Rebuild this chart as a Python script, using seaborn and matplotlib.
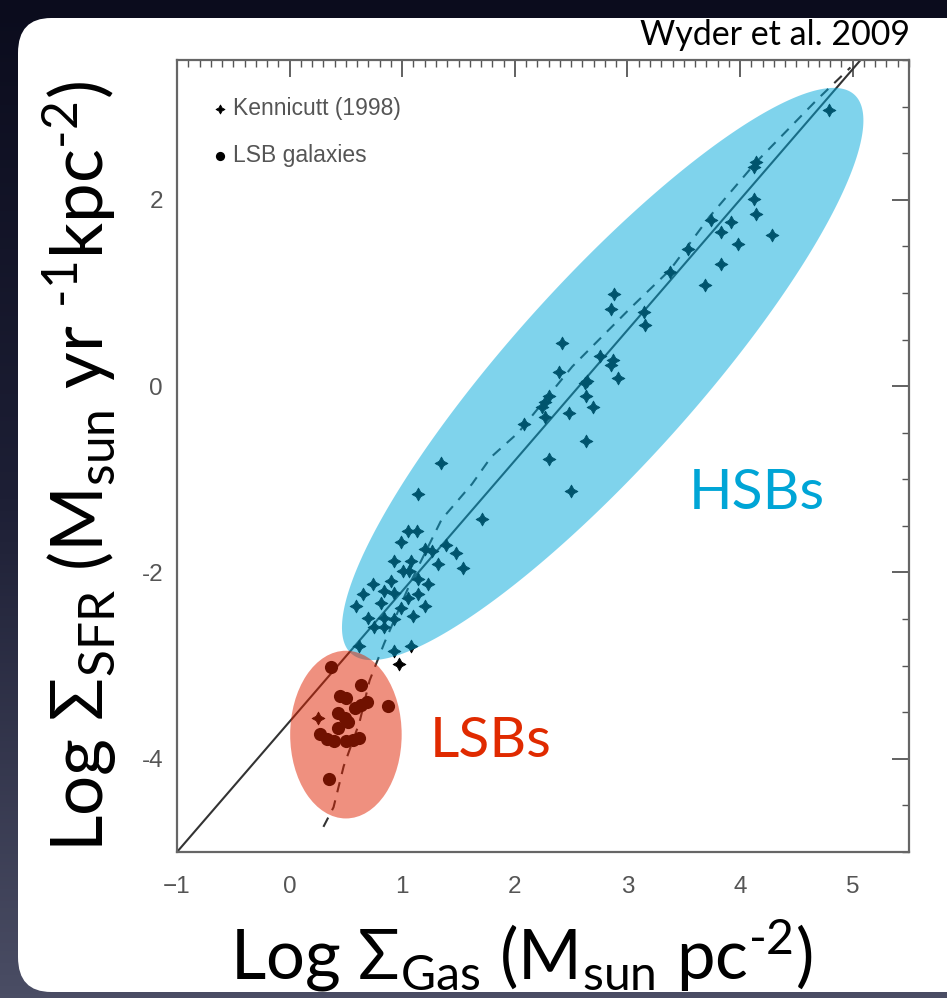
import numpy as np
import pandas as pd
import matplotlib
matplotlib.use("Agg")
import matplotlib.pyplot as plt
import seaborn as sns
from matplotlib.patches import Ellipse, FancyBboxPatch
from matplotlib.colors import LinearSegmentedColormap
from matplotlib.ticker import MultipleLocator, FixedLocator

# ---------------- data ----------------
kenn_gas = [1.14, 1.71, 1.05, 1.13, 0.99, 1.20, 1.26, 1.39, 1.48, 0.93, 1.08, 1.32,
            1.54, 1.01, 1.06, 1.14, 0.74, 0.90, 1.23, 0.65, 0.84, 0.93, 1.05, 1.14,
            0.81, 0.59, 0.99, 1.20, 0.70, 0.84, 0.93, 1.10, 0.75, 0.84, 0.62, 0.93,
            1.08, 0.97, 1.34, 0.25,
            2.08, 2.30, 2.50, 2.63, 2.48, 2.63, 2.69, 2.30, 2.27, 2.24, 2.27, 2.39,
            2.64, 2.62, 2.42, 2.76, 2.87, 2.85, 2.92, 2.85, 2.88, 3.15, 3.16,
            3.38, 3.69, 3.83, 3.54, 3.98, 4.28, 3.83, 3.74, 3.92, 4.14, 4.12, 4.12,
            4.14, 4.79]
kenn_sfr = [-1.16, -1.43, -1.55, -1.56, -1.67, -1.75, -1.77, -1.70, -1.79, -1.88, -1.88, -1.91,
            -1.95, -1.98, -1.98, -2.07, -2.12, -2.09, -2.12, -2.23, -2.20, -2.22, -2.27, -2.23,
            -2.33, -2.36, -2.38, -2.36, -2.49, -2.49, -2.50, -2.47, -2.59, -2.59, -2.79, -2.84,
            -2.79, -2.98, -0.82, -3.56,
            -0.41, -0.78, -1.13, -0.59, -0.29, -0.11, -0.22, -0.11, -0.17, -0.22, -0.33, 0.15,
            0.05, 0.03, 0.46, 0.32, 0.28, 0.23, 0.09, 0.83, 0.99, 0.80, 0.66,
            1.22, 1.09, 1.31, 1.47, 1.52, 1.62, 1.65, 1.78, 1.76, 1.85, 2.01, 2.35,
            2.40, 2.96]

lsb_gas = [0.37, 0.63, 0.45, 0.50, 0.58, 0.63, 0.69, 0.875, 0.43, 0.49, 0.52, 0.43,
           0.27, 0.33, 0.39, 0.50, 0.56, 0.62, 0.35]
lsb_sfr = [-3.01, -3.21, -3.33, -3.35, -3.45, -3.42, -3.39, -3.43, -3.51, -3.56, -3.60, -3.67,
           -3.73, -3.79, -3.81, -3.81, -3.80, -3.78, -4.22]

# Kennicutt relation (solid) end points
ks_x = [-1.0, 5.07]
ks_y = [-5.0, 3.50]

# dashed model curve
model_x = [0.30, 0.39, 0.48, 0.62, 0.71, 0.84, 1.08, 1.35, 1.62, 1.79, 2.03, 2.51,
           3.02, 3.38, 3.73, 4.14, 4.68, 4.98]
model_y = [-4.73, -4.52, -4.08, -3.61, -3.16, -2.76, -2.09, -1.43, -1.05, -0.76, -0.50, 0.21,
           0.83, 1.25, 1.82, 2.40, 3.07, 3.42]

x_ticks = [-1, 0, 1, 2, 3, 4, 5]
y_ticks = [-4, -2, 0, 2]

kenn = pd.DataFrame({"gas": kenn_gas, "sfr": kenn_sfr})
lsb = pd.DataFrame({"gas": lsb_gas, "sfr": lsb_sfr})

# ---------------- style ----------------
sns.set_theme(style="white")
plt.rcParams["font.family"] = ["Liberation Sans", "DejaVu Sans"]
plt.rcParams["mathtext.fontset"] = "custom"
plt.rcParams["mathtext.rm"] = "Lato"
plt.rcParams["mathtext.it"] = "Lato:italic"
plt.rcParams["mathtext.bf"] = "Lato:bold"
plt.rcParams["mathtext.sf"] = "Lato"

W, H = 947, 998
fig = plt.figure(figsize=(W / 100, H / 100), dpi=100)

# background gradient + white rounded panel
bg = fig.add_axes([0, 0, 1, 1], zorder=-10)
grad = np.linspace(0, 1, 256).reshape(-1, 1) * np.ones((1, 8))
cmap_bg = LinearSegmentedColormap.from_list("bg", ["#0b0c1d", "#1d1f35", "#4a4d64"])
bg.imshow(grad, aspect="auto", extent=[0, 1, 0, 1], cmap=cmap_bg, origin="upper")
bg.set_xlim(0, 1)
bg.set_ylim(0, 1)
bg.axis("off")
panel = FancyBboxPatch((18 / W, 6 / H), (W + 60) / W, (H - 24) / H,
                       boxstyle="round,pad=0,rounding_size=0.035",
                       transform=bg.transAxes, facecolor="white", edgecolor="none",
                       clip_on=False)
bg.add_patch(panel)

ax_l, ax_r, ax_t, ax_b = 177, 909, 60, 852
ax = fig.add_axes([ax_l / W, (H - ax_b) / H, (ax_r - ax_l) / W, (ax_b - ax_t) / H])
ax.set_facecolor("white")

xlim = (-1, 5.5)
ylim = (-5, 3.5)

sns.scatterplot(data=kenn, x="gas", y="sfr", ax=ax, marker=(4, 1, 0), s=85,
                color="black", edgecolor="black", linewidth=0.6,
                label="Kennicutt (1998)", zorder=3)
sns.scatterplot(data=lsb, x="gas", y="sfr", ax=ax, marker="o", s=90,
                color="black", edgecolor="black", linewidth=0,
                label="LSB galaxies", zorder=3)
sns.lineplot(x=ks_x, y=ks_y, ax=ax, color="#333333", lw=1.5, zorder=2, sort=False)
sns.lineplot(x=model_x, y=model_y, ax=ax, color="#333333", lw=1.5, zorder=2,
             linestyle=(0, (5, 4)), sort=False)

# shaded regions (annotation shapes)
sx = (ax_r - ax_l) / (xlim[1] - xlim[0])
sy = (ax_b - ax_t) / (ylim[1] - ylim[0])
t = np.linspace(0, 2 * np.pi, 400)
a_px, b_px, th = 376, 92, np.deg2rad(48)
cx, cy = 2.78, 0.13
px = a_px * np.cos(t) * np.cos(th) - b_px * np.sin(t) * np.sin(th)
py = a_px * np.cos(t) * np.sin(th) + b_px * np.sin(t) * np.cos(th)
ax.fill(cx + px / sx, cy + py / sy, color="#00a8db", alpha=0.5, lw=0, zorder=4)
ax.add_patch(Ellipse((0.50, -3.74), 0.99, 1.80, facecolor="#e02200", alpha=0.5,
                     lw=0, zorder=4))

ax.text(3.54, -1.32, "HSBs", color="#00a5d6", fontsize=41, family="Lato",
        va="baseline", ha="left", zorder=6)
ax.text(1.24, -3.98, "LSBs", color="#e02a00", fontsize=41, family="Lato",
        va="baseline", ha="left", zorder=6)

ax.set_xlim(*xlim)
ax.set_ylim(*ylim)
ax.xaxis.set_major_locator(FixedLocator(x_ticks))
ax.xaxis.set_minor_locator(MultipleLocator(0.1))
ax.yaxis.set_major_locator(FixedLocator(y_ticks))
ax.yaxis.set_minor_locator(MultipleLocator(0.5))
ax.set_xticklabels([f"{v:d}".replace("-", "\u2212") for v in x_ticks])
ax.set_yticklabels([f"{v:d}" for v in y_ticks])
ax.tick_params(which="both", direction="in", top=True, right=True, color="#555555")
ax.tick_params(which="major", length=12, width=1.3, labelsize=17.5, labelcolor="#555555")
ax.tick_params(axis="x", which="major", pad=17)
ax.tick_params(axis="y", which="major", pad=10)
ax.tick_params(which="minor", length=5, width=1.0)
for sp in ax.spines.values():
    sp.set_color("#666666")
    sp.set_linewidth(1.6)

ax.set_xlabel("Log $\\Sigma_{\\mathrm{Gas}}$ (M$_{\\mathrm{sun}}$ pc$^{\\mathrm{\u20102}}$)",
              fontsize=49.5, family="Lato", color="black", va="top")
ax.xaxis.set_label_coords(0.471, -0.082)
ax.set_ylabel("Log $\\Sigma_{\\mathrm{SFR}}$ (M$_{\\mathrm{sun}}$ yr $^{\\mathrm{\u20101}}$kpc$^{\\mathrm{\u20102}}$)",
              fontsize=51, family="Lato", color="black", va="bottom")
ax.yaxis.set_label_coords(-0.079, 0.486)

leg = ax.legend(loc="upper left", bbox_to_anchor=(0.031, 0.965), frameon=False,
                fontsize=16.5, labelcolor="#555555", handlelength=1.0,
                handletextpad=0.05, labelspacing=1.05, borderaxespad=0,
                markerscale=0.7)

fig.text(910 / W, 1 - 35 / H, "Wyder et al. 2009", ha="right", va="center",
         fontsize=24.5, family="Lato", color="black")

fig.savefig("out.png", dpi=100)
